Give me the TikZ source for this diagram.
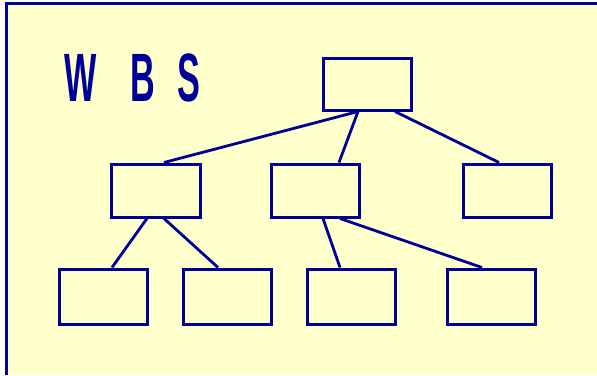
\documentclass[tikz,border=0pt]{standalone}
\usepackage{fontspec}
\setmainfont{Liberation Sans}
\definecolor{bgyellow}{HTML}{FFFFCC}
\definecolor{wbsblue}{HTML}{000099}
\begin{document}
\begin{tikzpicture}[x=1pt,y=-1pt,
  wbox/.style={draw=wbsblue,line width=3pt,fill=bgyellow,inner sep=0pt,minimum width=88pt},
  link/.style={draw=wbsblue,line width=2.8pt}]
\useasboundingbox (0,0) rectangle (597,375);
\fill[white] (0,0) rectangle (597,375);
\fill[bgyellow] (6,3) rectangle (597,375);
\draw[wbsblue,line width=3pt] (6,375) -- (6,3) -- (597,3);
\node[inner sep=0pt,anchor=base west,text=wbsblue] (title) at (63.8,101)
  {\scalebox{0.5}[1]{\fontsize{68.4}{70}\selectfont\bfseries W\hspace{49.4pt} B\hspace{25.6pt} S}};
\node[wbox,minimum height=52pt] (top) at (367,84) {};
\node[wbox,minimum height=53pt,minimum width=89pt] (b1) at (155.5,190.5) {};
\node[wbox,minimum height=53pt] (b2) at (315,190.5) {};
\node[wbox,minimum height=53pt] (b3) at (507,190.5) {};
\node[wbox,minimum height=55pt] (c1) at (103,296.5) {};
\node[wbox,minimum height=55pt] (c2) at (227,296.5) {};
\node[wbox,minimum height=55pt] (c3) at (351,296.5) {};
\node[wbox,minimum height=55pt] (c4) at (491,296.5) {};
\draw[link] ([xshift=-9pt]top.south) -- ([xshift=8.5pt]b1.north);
\draw[link] ([xshift=-9pt]top.south) -- ([xshift=24pt]b2.north);
\draw[link] ([xshift=28pt]top.south) -- ([xshift=-8pt]b3.north);
\draw[link] ([xshift=-8.5pt]b1.south) -- ([xshift=9pt]c1.north);
\draw[link] ([xshift=8.5pt]b1.south) -- ([xshift=-9pt]c2.north);
\draw[link] ([xshift=8pt]b2.south) -- ([xshift=-11pt]c3.north);
\draw[link] ([xshift=25pt]b2.south) -- ([xshift=-9pt]c4.north);
\end{tikzpicture}
\end{document}
